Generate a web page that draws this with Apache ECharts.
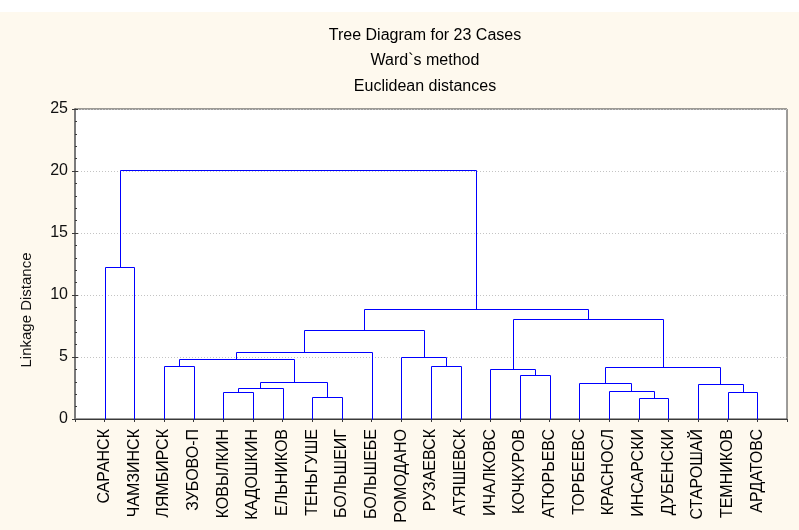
<!DOCTYPE html>
<html><head><meta charset="utf-8">
<script src="https://cdn.jsdelivr.net/npm/echarts@6/dist/echarts.min.js"></script>
<style>html,body{margin:0;padding:0;background:#FEF9EE}#c{width:799px;height:530px}</style>
</head><body><div id="c"></div>
<script>
const titleLines = ['Tree Diagram for 23 Cases', 'Ward`s method', 'Euclidean distances'];
const yAxisName = 'Linkage Distance';
const leaves = ['САРАНСК','ЧАМЗИНСК','ЛЯМБИРСК','ЗУБОВО-П','КОВЫЛКИН','КАДОШКИН','ЕЛЬНИКОВ','ТЕНЬГУШЕ','БОЛЬШЕИГ','БОЛЬШЕБЕ','РОМОДАНО','РУЗАЕВСК','АТЯШЕВСК','ИЧАЛКОВС','КОЧКУРОВ','АТЮРЬЕВС','ТОРБЕЕВС','КРАСНОСЛ','ИНСАРСКИ','ДУБЕНСКИ','СТАРОШАЙ','ТЕМНИКОВ','АРДАТОВС'];
// linkage: merge i creates node id (leaves.length + i)
const mergeLeft   = [18, 7, 4, 21, 17, 25, 20, 16, 28, 14, 13, 30, 11, 2, 36, 10, 37, 39, 33, 40, 0, 43];
const mergeRight  = [19, 8, 5, 22, 23, 6, 26, 27, 24, 15, 32, 29, 12, 3, 31, 35, 9, 38, 34, 41, 1, 42];
const mergeHeight = [1.69, 1.77, 2.15, 2.18, 2.26, 2.50, 2.85, 2.90, 3.01, 3.58, 4.06, 4.22, 4.25, 4.30, 4.81, 5.00, 5.40, 7.18, 8.06, 8.84, 12.26, 20.08];
const yTicks = [0, 5, 10, 15, 20, 25];

const FONT = "'Liberation Sans', Arial, sans-serif";
const n = leaves.length;
const nodeX = [], nodeH = [];
for (let i = 0; i < n; i++) { nodeX.push(i + 1); nodeH.push(0); }
const segs = [];
for (let i = 0; i < mergeLeft.length; i++) {
  const a = mergeLeft[i], b = mergeRight[i], h = mergeHeight[i];
  segs.push([nodeX[a], nodeH[a], nodeX[b], nodeH[b], h]);
  nodeX.push((nodeX[a] + nodeX[b]) / 2);
  nodeH.push(h);
}

const chart = echarts.init(document.getElementById('c'), null, {renderer: 'canvas'});
const snap = v => Math.round(v) + 0.5;
const axisColor = '#3a3a3a';
chart.setOption({
  backgroundColor: '#FEF9EE',
  animation: false,
  title: titleLines.map((t, i) => ({
    text: t, left: 420, top: 22.5 + i * 25.3, textAlign: 'center',
    textStyle: {fontFamily: FONT, fontSize: 16, fontWeight: 'normal', color: '#000'}
  })),
  graphic: [
    {type: 'rect', left: 0, top: 0, shape: {width: 799, height: 12}, style: {fill: '#ffffff'}, z: -1},
    {type: 'text', x: 27, y: 310, rotation: Math.PI / 2,
     style: {text: yAxisName, font: '15px ' + FONT, fill: '#111', align: 'center', verticalAlign: 'middle'}}
  ],
  grid: {left: 75, top: 109, width: 712, height: 310, show: true, backgroundColor: '#ffffff', borderColor: axisColor, borderWidth: 1},
  xAxis: [
    {type: 'value', min: 0, max: n + 1, interval: 1, position: 'bottom',
     axisLine: {show: true, lineStyle: {color: axisColor}},
     axisTick: {show: false}, splitLine: {show: false},
     axisLabel: {rotate: 90, margin: 10, fontSize: 16, fontFamily: FONT, color: '#000',
       showMinLabel: true, showMaxLabel: true,
       formatter: v => leaves[v - 1] || ''}},
    {type: 'value', min: 0, max: n + 1, interval: 1, position: 'top',
     axisLine: {show: true, lineStyle: {color: axisColor}},
     axisTick: {show: true, inside: true, length: 3, lineStyle: {color: axisColor}},
     axisLabel: {show: false}, splitLine: {show: false}}
  ],
  yAxis: [
    {type: 'value', min: yTicks[0], max: yTicks[yTicks.length - 1], interval: 5, position: 'left',
     axisLine: {show: true, lineStyle: {color: axisColor}},
     axisTick: {show: true, inside: true, length: 3, lineStyle: {color: axisColor}},
     minorTick: {show: true, splitNumber: 5, length: 2, lineStyle: {color: axisColor}},
     splitLine: {show: true, lineStyle: {color: '#c4c4c4', type: [1, 2], width: 1}},
     axisLabel: {fontSize: 16, fontFamily: FONT, color: '#111', margin: 7}},
    {type: 'value', min: yTicks[0], max: yTicks[yTicks.length - 1], interval: 5, position: 'right',
     axisLine: {show: true, lineStyle: {color: '#7a7a7a', width: 2}},
     axisTick: {show: true, inside: true, length: 3, lineStyle: {color: axisColor}},
     axisLabel: {show: false}, splitLine: {show: false}}
  ],
  series: [{
    type: 'custom', xAxisIndex: 0, yAxisIndex: 0,
    encode: {x: [0, 2], y: [1, 3, 4]},
    data: segs,
    renderItem: function (params, api) {
      const p1 = api.coord([api.value(0), api.value(1)]);
      const p2 = api.coord([api.value(0), api.value(4)]);
      const p3 = api.coord([api.value(2), api.value(4)]);
      const p4 = api.coord([api.value(2), api.value(3)]);
      const pts = [p1, p2, p3, p4].map(p => [snap(p[0]), snap(p[1])]);
      return {type: 'polyline', shape: {points: pts},
              style: {stroke: '#0000FF', lineWidth: 1, fill: null}};
    }
  }]
});
</script></body></html>
